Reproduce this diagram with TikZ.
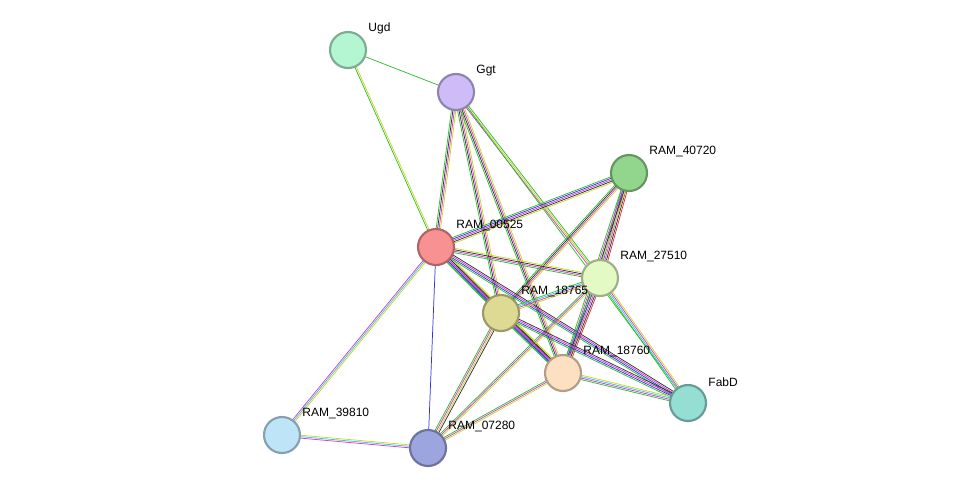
\documentclass[tikz,border=0pt]{standalone}
\usepackage{fontspec}
\setmainfont{Liberation Sans}
\usetikzlibrary{calc,backgrounds}

\definecolor{cGreen}{HTML}{2DBE2D}
\definecolor{cBlue}{HTML}{3232E6}
\definecolor{cMag}{HTML}{D23CD2}
\definecolor{cBlack}{HTML}{303030}
\definecolor{cYel}{HTML}{C8D820}
\definecolor{cCyan}{HTML}{40C0E0}
\definecolor{cRed}{HTML}{E03030}

\definecolor{fUgd}{RGB}{180,245,210}
\definecolor{fGgt}{RGB}{205,188,248}
\definecolor{fA}{RGB}{145,214,140}
\definecolor{fB}{RGB}{248,145,145}
\definecolor{fC}{RGB}{228,250,196}
\definecolor{fD}{RGB}{222,218,148}
\definecolor{fE}{RGB}{253,224,194}
\definecolor{fFab}{RGB}{148,222,212}
\definecolor{fG}{RGB}{190,228,248}
\definecolor{fH}{RGB}{156,165,222}

% n, from, to, colours
\newcommand\link[4]{%
  \foreach \c [count=\i] in {#4} {
    \pgfmathsetmacro\off{(\i-(#1+1)/2)*1.1}
    \draw[draw=\c, line width=0.55pt]
      ($(#2.center)!\off pt!90:(#3.center)$) -- ($(#3.center)!\off pt!-90:(#2.center)$);
  }}

\begin{document}
\begin{tikzpicture}[x=0.75pt, y=-0.75pt]
  \tikzset{
    Prot/.style = {circle, draw=#1!70!black, fill=#1, line width=1.6pt, minimum size=27pt, inner sep=0pt},
    Lbl/.style  = {anchor=south west, inner sep=0pt, font=\fontsize{9}{10}\selectfont, xshift=5pt, yshift=2pt}
  }
  \useasboundingbox (0,0) rectangle (975,494);

  \node (ugd) at (348,50)  [Prot=fUgd, label={[Lbl]north east:Ugd}] {};
  \node (ggt) at (456,92)  [Prot=fGgt, label={[Lbl]north east:Ggt}] {};
  \node (r40720) at (629,173) [Prot=fA, label={[Lbl]north east:RAM\_40720}] {};
  \node (r00525) at (436,247) [Prot=fB, label={[Lbl]north east:RAM\_00525}] {};
  \node (r27510) at (600,278) [Prot=fC, label={[Lbl]north east:RAM\_27510}] {};
  \node (r18765) at (501,313) [Prot=fD, label={[Lbl]north east:RAM\_18765}] {};
  \node (r18760) at (563,373) [Prot=fE, label={[Lbl]north east:RAM\_18760}] {};
  \node (fabd) at (688,403)   [Prot=fFab, label={[Lbl]north east:FabD}] {};
  \node (r39810) at (282,435) [Prot=fG, label={[Lbl]north east:RAM\_39810}] {};
  \node (r07280) at (428,448) [Prot=fH, label={[Lbl]north east:RAM\_07280}] {};

  \begin{pgfonlayer}{background}
    \link{1}{ugd}{ggt}{cGreen}
    \link{2}{ugd}{r00525}{cGreen,cYel}
    \link{4}{ggt}{r00525}{cGreen,cBlack,cMag,cYel}
    \link{4}{ggt}{r18765}{cGreen,cBlack,cMag,cYel}
    \link{4}{ggt}{r18760}{cGreen,cBlack,cMag,cYel}
    \link{3}{ggt}{r27510}{cMag,cYel,cGreen}
    \link{1}{ggt}{fabd}{cGreen}
    \link{5}{r40720}{r00525}{cGreen,cBlue,cMag,cBlack,cYel}
    \link{4}{r40720}{r18765}{cGreen,cBlack,cMag,cYel}
    \link{5}{r40720}{r27510}{cGreen,cBlue,cMag,cBlack,cRed}
    \link{4}{r40720}{r18760}{cGreen,cMag,cBlack,cYel}
    \link{4}{r00525}{r27510}{cGreen,cMag,cBlack,cYel}
    \link{5}{r00525}{r18765}{cGreen,cBlue,cMag,cBlack,cYel}
    \link{5}{r00525}{r18760}{cGreen,cBlue,cMag,cBlack,cYel}
    \link{4}{r00525}{fabd}{cGreen,cBlue,cMag,cBlack}
    \link{3}{r00525}{r39810}{cMag,cCyan,cYel}
    \link{1}{r00525}{r07280}{cBlue}
    \link{4}{r27510}{r18765}{cGreen,cCyan,cMag,cYel}
    \link{5}{r27510}{r18760}{cGreen,cBlue,cMag,cBlack,cRed}
    \link{4}{r27510}{fabd}{cGreen,cCyan,cMag,cYel}
    \link{3}{r27510}{r07280}{cGreen,cMag,cYel}
    \link{5}{r18765}{r18760}{cGreen,cBlue,cMag,cBlack,cYel}
    \link{4}{r18765}{fabd}{cGreen,cBlue,cMag,cBlack}
    \link{4}{r18765}{r07280}{cGreen,cMag,cYel,cBlack}
    \link{4}{r18760}{fabd}{cGreen,cMag,cCyan,cYel}
    \link{3}{r18760}{r07280}{cGreen,cMag,cYel}
    \link{3}{r39810}{r07280}{cMag,cCyan,cYel}
  \end{pgfonlayer}
\end{tikzpicture}
\end{document}
